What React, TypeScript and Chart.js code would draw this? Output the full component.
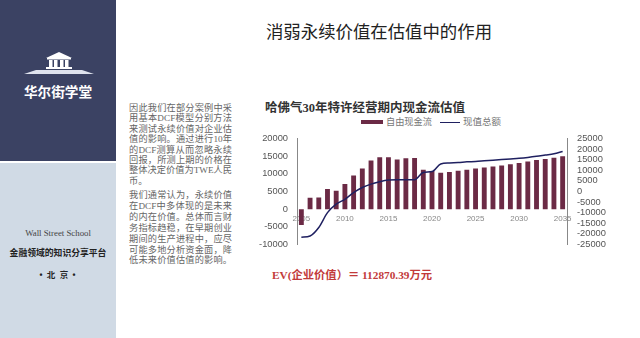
import React, { useEffect, useRef } from "react";
import { Chart, registerables } from "chart.js";

Chart.register(...registerables);

const years = ["2005","2006","2007","2008","2009","2010","2011","2012","2013","2014","2015","2016","2017","2018","2019","2020","2021","2022","2023","2024","2025","2026","2027","2028","2029","2030","2031","2032","2033","2034","2035"];
const freeCashFlow = [-4500,3200,3300,5700,5200,7100,9500,11500,13800,14700,14700,14100,14400,14500,11200,10800,10300,10500,10900,11200,11500,11800,12100,12400,12700,13100,13500,13900,14200,14600,15000];
const presentValue = [-21600,-21000,-17000,-10000,-6000,-3700,-500,1900,3500,4600,5400,5600,5600,5600,9000,9400,13000,13500,13700,14000,14200,14500,14800,15100,15400,15700,16100,16600,17200,17800,18900];
const leftTicks = [20000,15000,10000,5000,0,-5000,-10000];
const rightTicks = [25000,20000,15000,10000,5000,0,-5000,-10000,-15000,-20000,-25000];
const xLabelYears = ["2005","2010","2015","2020","2025","2030","2035"];
const seriesNames = ["自由现金流","现值总额"];
const chartTitle = "哈佛气30年特许经营期内现金流估值";

const serif = '"Liberation Serif","Noto Sans CJK SC",serif';
const sans = '"Liberation Sans","Noto Sans CJK SC",sans-serif';

const para1 = ["因此我们在部分案例中采","用基本DCF模型分别方法","来测试永续价值对企业估","值的影响。通过进行10年","的DCF测算从而忽略永续","回报，所测上期的价格在","整体决定价值为TWE人民","币。"];
const para2 = ["我们通常认为，永续价值","在DCF中多体现的是未来","的内在价值。总体而言财","务指标趋稳，在早期创业","期间的生产进程中，应尽","可能多地分析资金面，降","低未来价值估值的影响。"];

const num = (v: any) => String(v);

export default function App() {
  const ref = useRef<HTMLCanvasElement>(null);
  useEffect(() => {
    const chart = new Chart(ref.current!, {
      data: {
        labels: years,
        datasets: [
          { type: "line", label: seriesNames[1], data: presentValue, yAxisID: "y1", borderColor: "#1f2060", borderWidth: 1.5, pointRadius: 0, cubicInterpolationMode: "monotone", order: 0 },
          { type: "bar", label: seriesNames[0], data: freeCashFlow, yAxisID: "y", backgroundColor: "#6b2a45", barPercentage: 0.56, categoryPercentage: 1, order: 1 },
        ],
      },
      options: {
        animation: false,
        responsive: false,
        plugins: {
          title: { display: false },
          legend: { display: false },
          tooltip: { enabled: false },
        },
        scales: {
          x: {
            position: { y: 0 } as any,
            grid: { display: false, drawTicks: false },
            border: { display: false },
            ticks: {
              autoSkip: false, maxRotation: 0, minRotation: 0, padding: 5,
              color: "#888", font: { size: 8, family: sans },
              callback: function (this: any, v: any) { const l = years[v as number]; return xLabelYears.includes(l) ? l : ""; },
            },
          },
          y: {
            position: "left", min: -10000, max: 20000,
            afterBuildTicks: (a: any) => { a.ticks = leftTicks.map((value) => ({ value })); },
            afterFit: (a: any) => { a.width = 47; },
            grid: { display: false, tickLength: 3, tickColor: "#888" },
            border: { display: true, color: "#888" },
            ticks: { color: "#555", font: { size: 9.3, family: sans }, padding: 6, callback: num },
          },
          y1: {
            position: "right", min: -25000, max: 25000,
            afterBuildTicks: (a: any) => { a.ticks = rightTicks.map((value) => ({ value })); },
            afterFit: (a: any) => { a.width = 43; },
            grid: { display: false, tickLength: 3, tickColor: "#888" },
            border: { display: true, color: "#888" },
            ticks: { color: "#555", font: { size: 9.3, family: sans }, padding: 7, autoSkip: false, callback: num },
          },
        },
      },
    });
    return () => chart.destroy();
  }, []);

  const abs = (s: React.CSSProperties): React.CSSProperties => ({ position: "absolute", ...s });
  const lineStyle = (last: boolean): React.CSSProperties => ({ whiteSpace: "nowrap", textAlign: "justify", textAlignLast: last ? "left" : "justify" });
  return (
    <div style={abs({ left: 0, top: 0, width: 640, height: 338, background: "#fff", overflow: "hidden", fontFamily: serif, filter: "blur(0.45px)" })}>
      <div style={abs({ left: 0, top: 0, width: 116, height: 161, background: "#3b4263" })} />
      <div style={abs({ left: 0, top: 163, width: 116, height: 175, background: "#d0dae5" })} />
      <svg style={abs({ left: 22, top: 50, width: 74, height: 28 })} viewBox="0 0 74 28">
        <path d="M37 2 L50 8 H24 Z" fill="#fff" />
        <rect x="25" y="8" width="24" height="1.5" fill="#fff" />
        <rect x="27" y="10" width="3.5" height="7" fill="#fff" />
        <rect x="32" y="10" width="3.5" height="7" fill="#fff" />
        <rect x="38" y="10" width="3.5" height="7" fill="#fff" />
        <rect x="43" y="10" width="3.5" height="7" fill="#fff" />
        <rect x="24" y="17" width="26" height="2" fill="#fff" />
        <path d="M2 24 L14 20 H60 L72 24 Z" fill="#dfe3ee" />
      </svg>
      <div style={abs({ left: 0, top: 84, width: 116, textAlign: "center", color: "#fff", fontFamily: sans, fontWeight: 700, fontSize: 13.6, lineHeight: "18px" })}>华尔街学堂</div>
      <div style={abs({ left: 0, top: 227, width: 116, textAlign: "center", color: "#444", fontSize: 8.8, lineHeight: "12px" })}>Wall Street School</div>
      <div style={abs({ left: 0, top: 247, width: 116, textAlign: "center", color: "#222", fontFamily: sans, fontWeight: 700, fontSize: 8.8, lineHeight: "12px", whiteSpace: "nowrap" })}>金融领域的知识分享平台</div>
      <div style={abs({ left: 0, top: 269, width: 116, textAlign: "center", color: "#222", fontFamily: sans, fontWeight: 700, fontSize: 8.5, lineHeight: "12px", letterSpacing: 1 })}>• 北 京 •</div>
      <div style={abs({ left: 129, top: 103, width: 103, color: "#666", fontSize: 9.2, lineHeight: "10.4px" })}>
        {para1.map((l, i) => <div key={i} style={lineStyle(i === para1.length - 1)}>{l}</div>)}
      </div>
      <div style={abs({ left: 129, top: 190, width: 103, color: "#666", fontSize: 9.2, lineHeight: "10.9px" })}>
        {para2.map((l, i) => <div key={i} style={lineStyle(false)}>{l}</div>)}
      </div>
      <div style={abs({ left: 117, top: 21, width: 524, textAlign: "center", color: "#222", fontSize: 17.4, lineHeight: "22px" })}>消弱永续价值在估值中的作用</div>
      <div style={abs({ left: 265, top: 101, color: "#333", fontWeight: 700, fontSize: 12.5, lineHeight: "15px", whiteSpace: "nowrap" })}>{chartTitle}</div>
      <div style={abs({ left: 361, top: 120, width: 22, height: 4, background: "#6b2a45" })} />
      <div style={abs({ left: 386, top: 117, color: "#777", fontSize: 9.2, fontFamily: sans, lineHeight: "10px" })}>{seriesNames[0]}</div>
      <div style={abs({ left: 440, top: 122, width: 20, height: 1, background: "#1f2060" })} />
      <div style={abs({ left: 463, top: 117, color: "#777", fontSize: 9.5, fontFamily: sans, lineHeight: "10px" })}>{seriesNames[1]}</div>
      <canvas ref={ref} width={360} height={131} style={abs({ left: 250, top: 126, width: 360, height: 131 })} />
      <div style={abs({ left: 272, top: 268, color: "#c23a3a", fontWeight: 700, fontSize: 11.3, lineHeight: "14px", whiteSpace: "nowrap" })}>EV(企业价值）＝ 112870.39万元</div>
    </div>
  );
}
